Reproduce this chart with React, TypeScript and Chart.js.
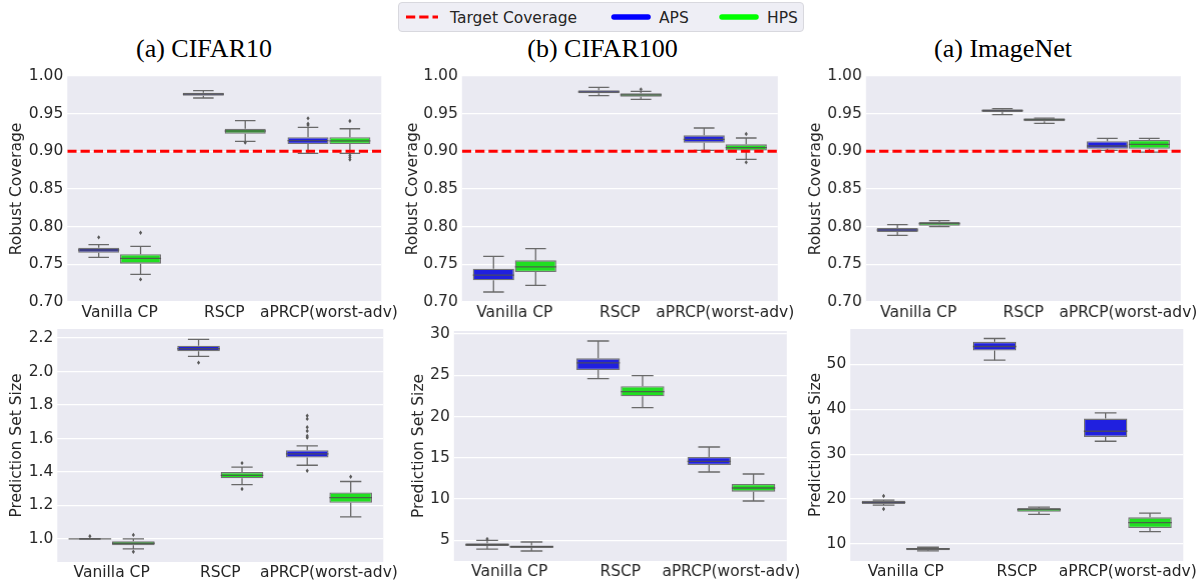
import React, { useEffect, useRef } from 'react';
import { Chart, registerables } from 'chart.js';

Chart.register(...registerables);

// ---------- data ----------
const categories = ['Vanilla CP', 'RSCP', 'aPRCP(worst-adv)'];
const seriesNames = ['APS', 'HPS'];
const targetCoverage = 0.9;

// five-number summaries per category: [lowWhisker, q1, median, q3, highWhisker]
const cifar10CoverageAPS = [
  [0.7593, 0.7655, 0.769, 0.7721, 0.7761],
  [0.9708, 0.9739, 0.976, 0.9779, 0.9805],
  [0.8973, 0.9097, 0.9142, 0.9186, 0.9319],
];
const cifar10CoverageAPSOutliers = [[0.7858], [], [0.9438, 0.9367, 0.935]];
const cifar10CoverageHPS = [
  [0.7367, 0.7509, 0.758, 0.7633, 0.7739],
  [0.9133, 0.9235, 0.927, 0.930, 0.9407],
  [0.8973, 0.9097, 0.914, 0.9186, 0.930],
];
const cifar10CoverageHPSOutliers = [[0.792, 0.730], [0.9115], [0.9403, 0.8947, 0.892, 0.889]];

const cifar10SizeAPS = [
  [1.0, 1.0, 1.0, 1.0, 1.0],
  [2.091, 2.1205, 2.136, 2.154, 2.192],
  [1.44, 1.486, 1.508, 1.53, 1.556],
];
const cifar10SizeAPSOutliers = [[1.016], [2.053], [1.736, 1.717, 1.667, 1.645, 1.615, 1.605, 1.407]];
const cifar10SizeHPS = [
  [0.94, 0.962, 0.974, 0.986, 1.0],
  [1.324, 1.362, 1.38, 1.399, 1.429],
  [1.132, 1.216, 1.246, 1.277, 1.343],
];
const cifar10SizeHPSOutliers = [[1.024, 0.923], [1.453, 1.298], [1.371]];

const cifar100CoverageAPS = [
  [0.7133, 0.7288, 0.7358, 0.7442, 0.7606],
  [0.9739, 0.977, 0.979, 0.981, 0.985],
  [0.9013, 0.9115, 0.916, 0.9212, 0.931],
];
const cifar100CoverageAPSOutliers = [[], [], []];
const cifar100CoverageHPS = [
  [0.7221, 0.7398, 0.7465, 0.7553, 0.7708],
  [0.969, 0.9726, 0.975, 0.977, 0.9797],
  [0.8894, 0.901, 0.9049, 0.9093, 0.9177],
];
const cifar100CoverageHPSOutliers = [[], [0.9823], [0.923, 0.8854]];

const cifar100SizeAPS = [
  [3.95, 4.31, 4.47, 4.64, 5.0],
  [24.59, 25.64, 26.49, 27.05, 29.15],
  [13.28, 14.13, 14.57, 15.1, 16.31],
];
const cifar100SizeAPSOutliers = [[5.16], [], []];
const cifar100SizeHPS = [
  [3.71, 4.07, 4.23, 4.39, 4.8],
  [21.07, 22.45, 23.01, 23.66, 24.95],
  [9.77, 10.9, 11.34, 11.83, 13.04],
];
const cifar100SizeHPSOutliers = [[], [], []];

const imagenetCoverageAPS = [
  [0.7885, 0.793, 0.7956, 0.7982, 0.8027],
  [0.9487, 0.9522, 0.954, 0.9558, 0.9566],
  [0.9013, 0.9035, 0.9071, 0.9133, 0.9173],
];
const imagenetCoverageAPSOutliers = [[], [], []];
const imagenetCoverageHPS = [
  [0.8, 0.8013, 0.804, 0.8062, 0.808],
  [0.9372, 0.9398, 0.942, 0.9438, 0.9442],
  [0.899, 0.9035, 0.9093, 0.915, 0.9173],
];
const imagenetCoverageHPSOutliers = [[], [], []];

const imagenetSizeAPS = [
  [18.67, 18.89, 19.26, 19.63, 19.78],
  [50.96, 53.11, 54.0, 55.04, 55.78],
  [32.89, 33.85, 35.11, 37.93, 39.19],
];
const imagenetSizeAPSOutliers = [[20.67, 17.78], [], []];
const imagenetSizeHPS = [
  [8.44, 8.59, 8.89, 9.11, 9.26],
  [16.59, 17.19, 17.63, 18.0, 18.22],
  [12.74, 13.56, 14.74, 15.93, 16.89],
];
const imagenetSizeHPSOutliers = [[], [], []];

// tick labels
const coverageTicks = [0.7, 0.75, 0.8, 0.85, 0.9, 0.95, 1.0];
const cifar10SizeTicks = [1.0, 1.2, 1.4, 1.6, 1.8, 2.0, 2.2];
const cifar100SizeTicks = [5, 10, 15, 20, 25, 30];
const imagenetSizeTicks = [10, 20, 30, 40, 50];

const panelTitles = ['(a) CIFAR10', '(b) CIFAR100', '(a) ImageNet'];
const yTitles = ['Robust Coverage', 'Prediction Set Size'];

// ---------- styles ----------
const APS_FILL = 'rgb(32,32,223)';
const HPS_FILL = 'rgb(32,223,32)';
const APS_LINE = 'rgb(0,0,255)';
const HPS_LINE = 'rgb(0,255,0)';
const EDGE = 'rgba(95,95,95,0.85)';
const WHISKER = 'rgb(105,105,105)';
const PLOT_BG = '#EAEAF2';
const TEXT = '#262626';
const FONT = 'DejaVu Sans';
const FS = 15.5;

const PAD_TOP = 12;
const PAD_RIGHT = 24;
const Y_SHIFT = 2;

type Panel = {
  aps: number[][];
  apsOut: number[][];
  hps: number[][];
  hpsOut: number[][];
  yMin: number;
  yMax: number;
  ticks: number[];
  decimals: number;
  yTitle: string;
  target: boolean;
  // layout (pixels on page)
  L: number; T: number; R: number; B: number; titleX: number; xh: number;
};

const panels: Panel[] = [
  { aps: cifar10CoverageAPS, apsOut: cifar10CoverageAPSOutliers, hps: cifar10CoverageHPS, hpsOut: cifar10CoverageHPSOutliers,
    yMin: 0.7, yMax: 1.0, ticks: coverageTicks, decimals: 2, yTitle: yTitles[0], target: true,
    L: 67, T: 74, R: 381, B: 300, titleX: 17, xh: 22 },
  { aps: cifar100CoverageAPS, apsOut: cifar100CoverageAPSOutliers, hps: cifar100CoverageHPS, hpsOut: cifar100CoverageHPSOutliers,
    yMin: 0.7, yMax: 1.0, ticks: coverageTicks, decimals: 2, yTitle: yTitles[0], target: true,
    L: 462, T: 74, R: 777, B: 300, titleX: 413.5, xh: 22 },
  { aps: imagenetCoverageAPS, apsOut: imagenetCoverageAPSOutliers, hps: imagenetCoverageHPS, hpsOut: imagenetCoverageHPSOutliers,
    yMin: 0.7, yMax: 1.0, ticks: coverageTicks, decimals: 2, yTitle: yTitles[0], target: true,
    L: 866, T: 74, R: 1180, B: 300, titleX: 816.5, xh: 22 },
  { aps: cifar10SizeAPS, apsOut: cifar10SizeAPSOutliers, hps: cifar10SizeHPS, hpsOut: cifar10SizeHPSOutliers,
    yMin: 0.862, yMax: 2.254, ticks: cifar10SizeTicks, decimals: 1, yTitle: yTitles[1], target: false,
    L: 57, T: 327, R: 383, B: 560, titleX: 17, xh: 20 },
  { aps: cifar100SizeAPS, apsOut: cifar100SizeAPSOutliers, hps: cifar100SizeHPS, hpsOut: cifar100SizeHPSOutliers,
    yMin: 2.5, yMax: 30.36, ticks: cifar100SizeTicks, decimals: 0, yTitle: yTitles[1], target: false,
    L: 454, T: 329, R: 786, B: 559, titleX: 419.5, xh: 21 },
  { aps: imagenetSizeAPS, apsOut: imagenetSizeAPSOutliers, hps: imagenetSizeHPS, hpsOut: imagenetSizeHPSOutliers,
    yMin: 6.2, yMax: 57.9, ticks: imagenetSizeTicks, decimals: 0, yTitle: yTitles[1], target: false,
    L: 850, T: 327, R: 1183, B: 559, titleX: 816, xh: 21 },
];

const bgPlugin = {
  id: 'plotBg',
  beforeDraw(chart: any) {
    const { ctx, chartArea: a } = chart;
    ctx.save();
    ctx.fillStyle = PLOT_BG;
    ctx.fillRect(a.left, a.top, a.right - a.left, a.bottom - a.top);
    ctx.restore();
  },
};

function line(ctx: CanvasRenderingContext2D, x1: number, y1: number, x2: number, y2: number) {
  ctx.beginPath();
  ctx.moveTo(x1, y1);
  ctx.lineTo(x2, y2);
  ctx.stroke();
}

const boxPlugin = {
  id: 'boxExtras',
  afterDatasetsDraw(chart: any) {
    const { ctx, chartArea: a } = chart;
    const ys = chart.scales.y;
    ctx.save();
    ctx.beginPath();
    ctx.rect(a.left, a.top, a.right - a.left, a.bottom - a.top);
    ctx.clip();
    chart.data.datasets.forEach((ds: any, di: number) => {
      const meta = chart.getDatasetMeta(di);
      meta.data.forEach((bar: any, j: number) => {
        const s = ds.stats[j];
        const x = bar.x;
        const w = bar.width;
        const p = (v: number) => ys.getPixelForValue(v);
        ctx.strokeStyle = WHISKER;
        ctx.lineWidth = 1.3;
        line(ctx, x, p(s[3]), x, p(s[4]));
        line(ctx, x, p(s[1]), x, p(s[0]));
        line(ctx, x - w / 4, p(s[4]), x + w / 4, p(s[4]));
        line(ctx, x - w / 4, p(s[0]), x + w / 4, p(s[0]));
        ctx.strokeStyle = 'rgba(80,80,80,0.85)';
        line(ctx, x - w / 2, p(s[2]), x + w / 2, p(s[2]));
        ctx.fillStyle = 'rgb(90,90,90)';
        (ds.outliers[j] || []).forEach((v: number) => {
          const py = p(v);
          ctx.beginPath();
          ctx.moveTo(x, py - 2.2);
          ctx.lineTo(x + 1.6, py);
          ctx.lineTo(x, py + 2.2);
          ctx.lineTo(x - 1.6, py);
          ctx.closePath();
          ctx.fill();
        });
      });
    });
    const opts = chart.options.plugins.targetLine;
    if (opts && opts.show) {
      const py = ys.getPixelForValue(targetCoverage);
      ctx.strokeStyle = '#ff0000';
      ctx.lineWidth = 3;
      ctx.setLineDash([9.25, 4]);
      line(ctx, a.left, py, a.right, py);
      ctx.setLineDash([]);
    }
    ctx.restore();
  },
};

function BoxPanel({ cfg }: { cfg: Panel }) {
  const ref = useRef<HTMLCanvasElement>(null);
  const left = cfg.titleX - FS * 1.2 / 2;
  const top = cfg.T - PAD_TOP + Y_SHIFT;
  const width = cfg.R - left + PAD_RIGHT;
  const height = cfg.B - cfg.T + PAD_TOP + cfg.xh;
  const yAxisW = cfg.L - left;

  useEffect(() => {
    const font = { family: FONT, size: FS };
    const chart = new Chart(ref.current as HTMLCanvasElement, {
      type: 'bar',
      data: {
        labels: categories,
        datasets: [
          {
            label: seriesNames[0],
            data: cfg.aps.map((s) => [s[1], s[3]]),
            backgroundColor: APS_FILL,
            borderColor: EDGE,
            borderWidth: 1.3,
            borderSkipped: false,
            categoryPercentage: 0.8,
            barPercentage: 0.98,
            stats: cfg.aps,
            outliers: cfg.apsOut,
          } as any,
          {
            label: seriesNames[1],
            data: cfg.hps.map((s) => [s[1], s[3]]),
            backgroundColor: HPS_FILL,
            borderColor: EDGE,
            borderWidth: 1.3,
            borderSkipped: false,
            categoryPercentage: 0.8,
            barPercentage: 0.98,
            stats: cfg.hps,
            outliers: cfg.hpsOut,
          } as any,
        ],
      },
      options: {
        animation: false,
        responsive: true,
        maintainAspectRatio: false,
        devicePixelRatio: 1,
        layout: { padding: { top: PAD_TOP, right: PAD_RIGHT, left: 0, bottom: 0 } },
        plugins: {
          legend: { display: false },
          tooltip: { enabled: false },
          targetLine: { show: cfg.target },
        } as any,
        scales: {
          x: {
            type: 'category',
            grid: { display: false, drawTicks: false },
            border: { display: false },
            ticks: { color: TEXT, font, padding: 2, maxRotation: 0, minRotation: 0, autoSkip: false },
            afterFit: (s: any) => {
              s.height = cfg.xh;
              s.paddingLeft = 0;
              s.paddingRight = 0;
            },
          },
          y: {
            type: 'linear',
            min: cfg.yMin,
            max: cfg.yMax,
            grid: { color: '#ffffff', lineWidth: 1.2, drawTicks: false },
            border: { display: false },
            ticks: {
              color: TEXT,
              font,
              padding: 4,
              callback: (v: any) => Number(v).toFixed(cfg.decimals),
            },
            title: { display: true, text: cfg.yTitle, color: TEXT, font, padding: { top: 0, bottom: 0 } },
            afterBuildTicks: (s: any) => {
              s.ticks = cfg.ticks.map((v) => ({ value: v }));
            },
            afterFit: (s: any) => {
              s.width = yAxisW;
              s.paddingTop = 0;
              s.paddingBottom = 0;
            },
          },
        },
      },
      plugins: [bgPlugin, boxPlugin],
    });
    return () => chart.destroy();
  }, []);

  return (
    <div style={{ position: 'absolute', left, top, width, height }}>
      <canvas ref={ref} />
    </div>
  );
}

const titleCenters = [204, 602.5, 1003];

function Legend() {
  const txt: React.CSSProperties = {
    position: 'absolute', top: 5.5, fontFamily: FONT, fontSize: FS, lineHeight: '18px', color: TEXT, whiteSpace: 'nowrap',
  };
  return (
    <div style={{
      position: 'absolute', left: 398, top: 2, width: 406, height: 30, boxSizing: 'border-box',
      background: '#EEEEF5', border: '1px solid #D8D8DE', borderRadius: 4,
    }}>
      <svg style={{ position: 'absolute', left: 0, top: 0 }} width={406} height={30}>
        <line x1={7} y1={14} x2={39} y2={14} stroke="#ff0000" strokeWidth={3} strokeDasharray="9.25 4" />
        <line x1={215} y1={14} x2={249} y2={14} stroke={APS_LINE} strokeWidth={5.5} strokeLinecap="round" />
        <line x1={323} y1={14} x2={357} y2={14} stroke={HPS_LINE} strokeWidth={5.5} strokeLinecap="round" />
      </svg>
      <span style={{ ...txt, left: 51 }}>Target Coverage</span>
      <span style={{ ...txt, left: 260 }}>{seriesNames[0]}</span>
      <span style={{ ...txt, left: 368 }}>{seriesNames[1]}</span>
    </div>
  );
}

export default function App() {
  return (
    <div style={{ position: 'fixed', left: 0, top: 0, width: 1201, height: 580, background: '#ffffff', overflow: 'hidden' }}>
      {panelTitles.map((t, i) => (
        <div key={t} style={{
          position: 'absolute', left: titleCenters[i] - 150, width: 300, top: 33.5, textAlign: 'center',
          fontFamily: '"Liberation Serif", "DejaVu Serif", serif', fontSize: 26, lineHeight: '30px', color: '#000',
        }}>{t}</div>
      ))}
      {panels.map((p, i) => <BoxPanel key={i} cfg={p} />)}
      <Legend />
    </div>
  );
}
